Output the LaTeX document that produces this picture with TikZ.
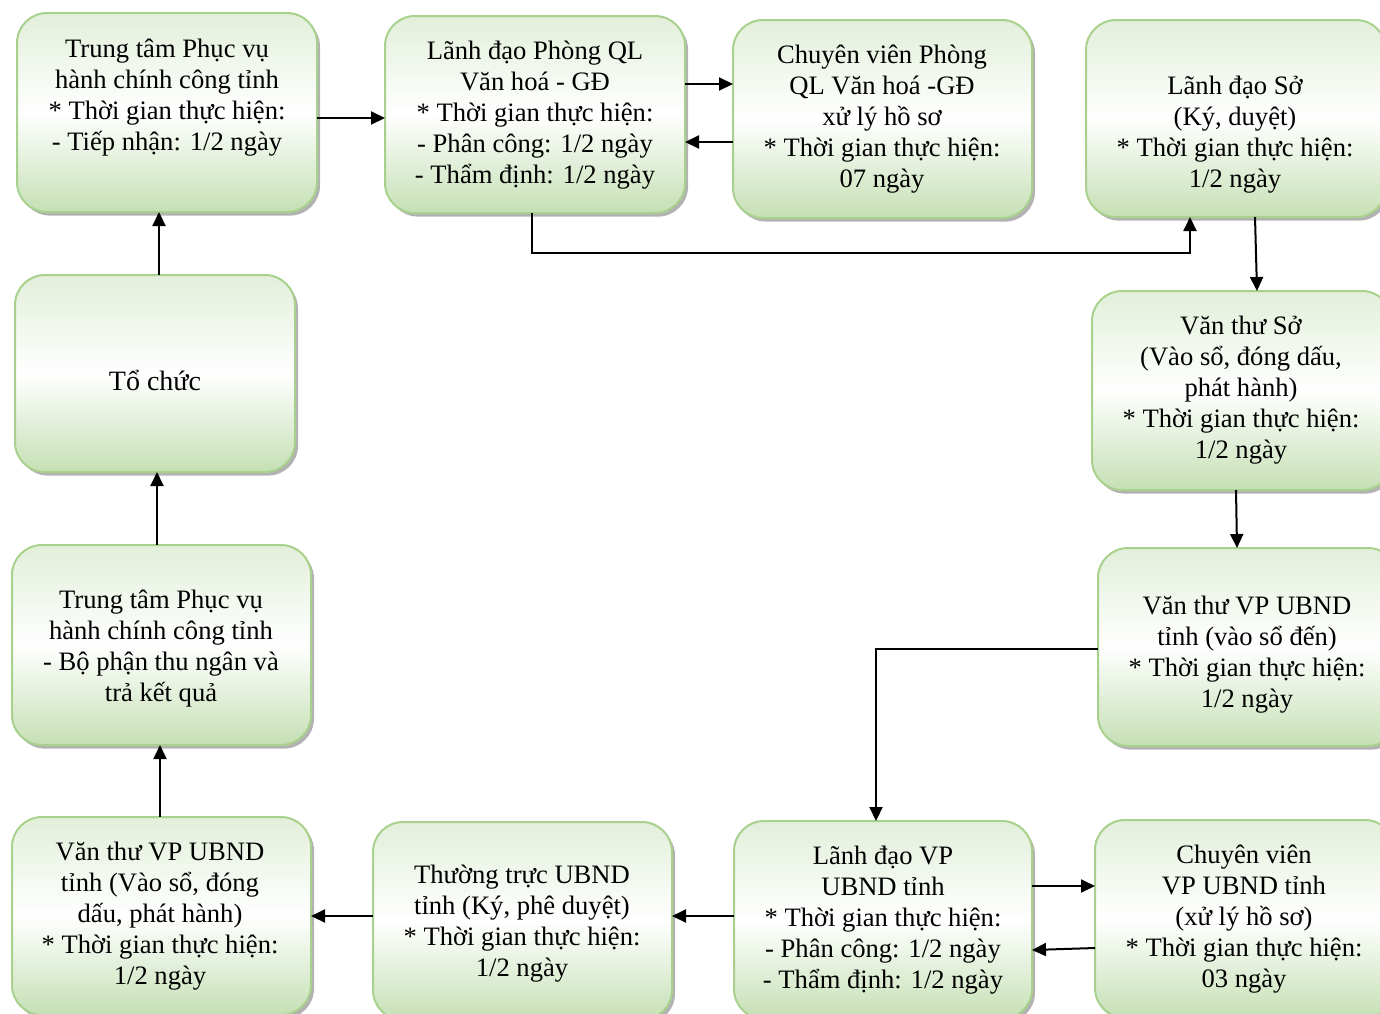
\documentclass[tikz,border=0pt]{standalone}
\usepackage{fontspec}
\setmainfont{Liberation Serif}
\usetikzlibrary{arrows.meta,shadows,calc}
\definecolor{bord}{HTML}{A9D18E}
\definecolor{gbot}{HTML}{C5E0B4}
\definecolor{gtop}{HTML}{E2EFDA}
\tikzset{
 box/.style={draw=bord, line width=1pt, rounded corners=15pt, top color=gtop, bottom color=gbot, middle color=white, inner sep=0pt, outer sep=0pt,
   drop shadow={shadow xshift=1.5pt, shadow yshift=-1.8pt, fill=black, opacity=0.3}},
 txt/.style={align=center, font=\fontsize{13.3pt}{15.5pt}\selectfont, inner sep=0pt, yshift=-1.3pt},
 arr/.style={line width=1pt, -{Triangle[length=7pt,width=6.5pt]}},
}
\begin{document}
\begin{tikzpicture}[x=0.5pt,y=-0.5pt]
\useasboundingbox (0,0) rectangle (1380,1013);
\clip (0,0) rectangle (1380,1013);
% boxes
\node[box, minimum width=150pt, minimum height=99.5pt] (b1) at (167,112.5) {};
\node[box, minimum width=150pt, minimum height=98.5pt] (b2) at (535,114.5) {};
\node[box, minimum width=149.5pt, minimum height=99pt] (b3) at (882.5,119) {};
\node[box, minimum width=150pt, minimum height=98.5pt] (b4) at (1236,118.5) {};
\node[box, minimum width=150pt, minimum height=99.5pt] (b5) at (1242,390.5) {};
\node[box, minimum width=150pt, minimum height=99pt] (b6) at (1248,647) {};
\node[box, minimum width=150pt, minimum height=99pt] (b7) at (1245,919) {};
\node[box, minimum width=149pt, minimum height=99pt] (b8) at (883,920) {};
\node[box, minimum width=149.5pt, minimum height=99pt] (b9) at (522.5,921) {};
\node[box, minimum width=149.5pt, minimum height=99pt] (b10) at (161.5,916) {};
\node[box, minimum width=149.5pt, minimum height=100pt] (b11) at (161.5,645) {};
\node[box, minimum width=140pt, minimum height=98.5pt] (b12) at (155,373.5) {};
% texts
\node[txt] (t1) at (167,95) {Trung tâm Phục vụ\\hành chính công tỉnh\\* Thời gian thực hiện:\\- Tiếp nhận: 1/2 ngày};
\node[txt] (t2) at (535,112.5) {Lãnh đạo Phòng QL\\Văn hoá - GĐ\\* Thời gian thực hiện:\\- Phân công: 1/2 ngày\\- Thẩm định: 1/2 ngày};
\node[txt] (t3) at (882,117) {Chuyên viên Phòng\\QL Văn hoá -GĐ\\xử lý hồ sơ\\* Thời gian thực hiện:\\07 ngày};
\node[txt] (t4) at (1235,132) {Lãnh đạo Sở\\(Ký, duyệt)\\* Thời gian thực hiện:\\1/2 ngày};
\node[txt] (t5) at (1241,388) {Văn thư Sở\\(Vào sổ, đóng dấu,\\phát hành)\\* Thời gian thực hiện:\\1/2 ngày};
\node[txt] (t6) at (1247,652.5) {Văn thư VP UBND\\tỉnh (vào sổ đến)\\* Thời gian thực hiện:\\1/2 ngày};
\node[txt] (t7) at (1244,916.5) {Chuyên viên\\VP UBND tỉnh\\(xử lý hồ sơ)\\* Thời gian thực hiện:\\03 ngày};
\node[txt] (t8) at (883,917.5) {Lãnh đạo VP\\UBND tỉnh\\* Thời gian thực hiện:\\- Phân công: 1/2 ngày\\- Thẩm định: 1/2 ngày};
\node[txt] (t9) at (522,921) {Thường trực UBND\\tỉnh (Ký, phê duyệt)\\* Thời gian thực hiện:\\1/2 ngày};
\node[txt] (t10) at (160,914) {Văn thư VP UBND\\tỉnh (Vào sổ, đóng\\dấu, phát hành)\\* Thời gian thực hiện:\\1/2 ngày};
\node[txt] (t11) at (161,646) {Trung tâm Phục vụ\\hành chính công tỉnh\\- Bộ phận thu ngân và\\trả kết quả};
\node[txt, font=\fontsize{14pt}{16pt}\selectfont] (t12) at (155,378) {Tổ chức};
% connectors
\draw[arr] (b1.east |- 0,118) -- (b2.west |- 0,118);
\draw[arr] (b2.east |- 0,84) -- (b3.west |- 0,84);
\draw[arr] (b3.west |- 0,142) -- (b2.east |- 0,142);
\draw[arr] (b2.south -| 532,0) -- (532,253) -| (b4.south -| 1190,0);
\draw[arr] (b4.south -| 1255,0) -- (b5.north -| 1257,0);
\draw[arr] (b5.south -| 1236,0) -- (b6.north -| 1237,0);
\draw[arr] (b6.west |- 0,649) -| (b8.north -| 876,0);
\draw[arr] (b8.east |- 0,886) -- (b7.west |- 0,886);
\draw[arr] (b7.west |- 0,948) -- (b8.east |- 0,950);
\draw[arr] (b8.west |- 0,916) -- (b9.east |- 0,916);
\draw[arr] (b9.west |- 0,916) -- (b10.east |- 0,916);
\draw[arr] (b10.north -| 160,0) -- (b11.south -| 160,0);
\draw[arr] (b11.north -| 157,0) -- (b12.south -| 157,0);
\draw[arr] (b12.north -| 159,0) -- (b1.south -| 159,0);
\end{tikzpicture}
\end{document}
